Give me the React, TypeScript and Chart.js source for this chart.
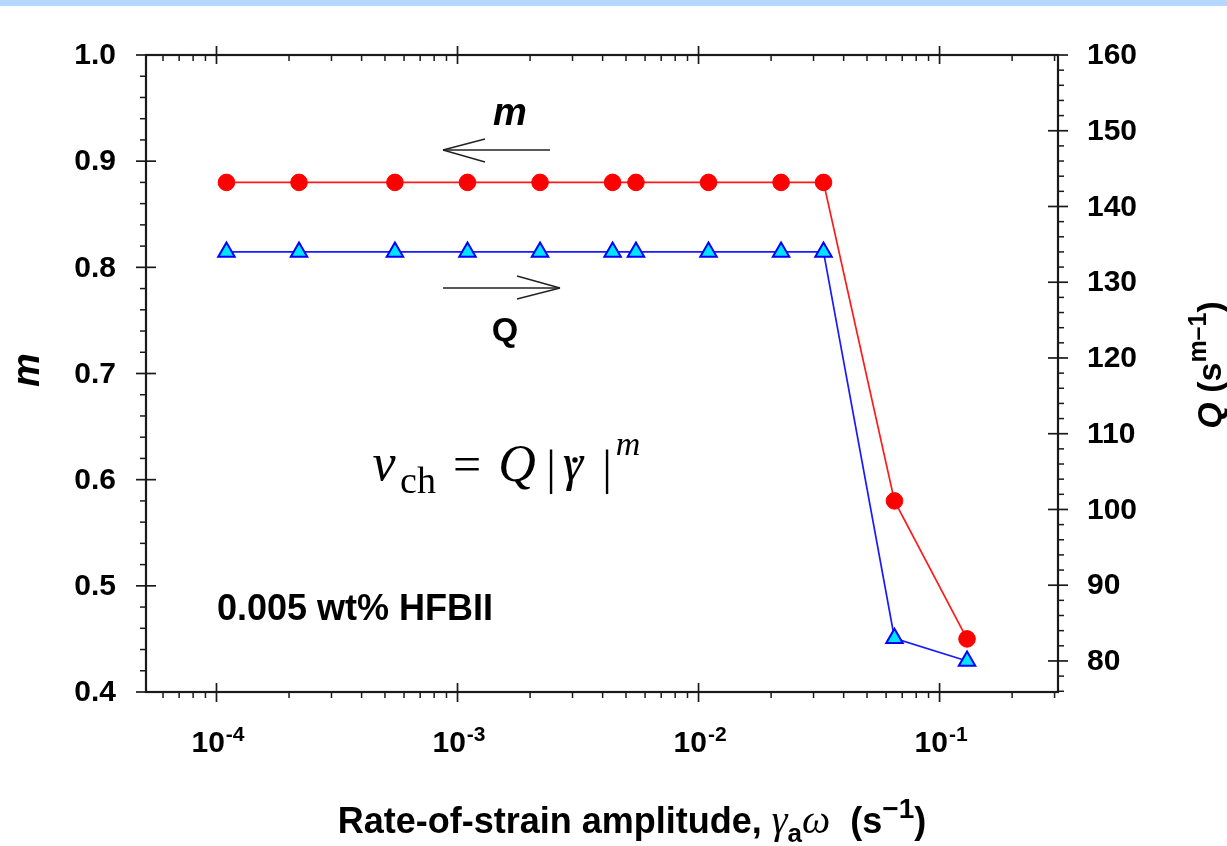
import { useEffect, useRef } from "react";
import { Chart, registerables } from "chart.js";

Chart.register(...registerables);

// Rate-of-strain amplitude, gamma_a * omega (s^-1)
const rates = [1.1e-4, 2.2e-4, 5.5e-4, 1.1e-3, 2.2e-3, 4.4e-3, 5.5e-3, 1.1e-2, 2.2e-2, 3.3e-2, 6.5e-2, 1.3e-1];
// Power-law exponent m (left axis)
const mValues = [0.88, 0.88, 0.88, 0.88, 0.88, 0.88, 0.88, 0.88, 0.88, 0.88, 0.58, 0.45];
// Prefactor Q, s^(m-1) (right axis)
const qValues = [134, 134, 134, 134, 134, 134, 134, 134, 134, 134, 83, 80];

const xDecades = [1e-4, 1e-3, 1e-2, 1e-1];
const xDecadeExponents = ["-4", "-3", "-2", "-1"];
const mTicks = [0.4, 0.5, 0.6, 0.7, 0.8, 0.9, 1.0];
const qTicks = [80, 90, 100, 110, 120, 130, 140, 150, 160];

const W = 1227;
const H = 846;
const SANS = "'Liberation Sans', Arial, sans-serif";
const SERIF = "'Liberation Serif', 'Times New Roman', serif";
const AXIS = "#1a1a1a";

const framePlugin = {
  id: "frame",
  beforeDraw(chart: any) {
    const ctx = chart.ctx as CanvasRenderingContext2D;
    ctx.save();
    ctx.fillStyle = "#ffffff";
    ctx.fillRect(0, 0, W, H);
    ctx.fillStyle = "#b3d7ff";
    ctx.fillRect(0, 0, W, 6);
    ctx.restore();
  },
  afterDraw(chart: any) {
    const ctx = chart.ctx as CanvasRenderingContext2D;
    const { left, right, top, bottom } = chart.chartArea;
    const sx = chart.scales.x;
    const sm = chart.scales.yM;
    const sq = chart.scales.yQ;
    ctx.save();
    ctx.strokeStyle = AXIS;
    ctx.fillStyle = "#000";
    ctx.lineCap = "butt";

    const seg = (x1: number, y1: number, x2: number, y2: number, w = 1.7) => {
      ctx.lineWidth = w;
      ctx.beginPath();
      ctx.moveTo(x1, y1);
      ctx.lineTo(x2, y2);
      ctx.stroke();
    };

    // frame
    ctx.lineWidth = 2.2;
    ctx.strokeRect(left, top, right - left, bottom - top);

    // x ticks (log): majors at decades, minors at 2..9
    for (let e = -5; e <= -1; e++) {
      for (let k = 1; k <= 9; k++) {
        const v = k * Math.pow(10, e);
        const px = sx.getPixelForValue(v);
        if (px < left - 0.5 || px > right + 0.5) continue;
        if (k === 1) {
          seg(px, bottom - 9, px, bottom + 10);
          seg(px, top - 9, px, top + 9);
        } else {
          seg(px, bottom, px, bottom + 6, 1.5);
          seg(px, top, px, top + 6, 1.5);
        }
      }
    }

    // left ticks (m)
    for (let i = 0; i <= 30; i++) {
      const v = 0.4 + i * 0.02;
      const py = sm.getPixelForValue(v);
      if (i % 5 === 0) seg(left - 10, py, left + 10, py);
      else seg(left - 6, py, left, py, 1.5);
    }
    // right ticks (Q)
    for (let v = 76; v <= 160; v += 2) {
      const py = sq.getPixelForValue(v);
      if (v % 10 === 0) seg(right - 10, py, right + 10, py);
      else seg(right, py, right + 6, py, 1.5);
    }

    // tick labels
    ctx.font = `bold 30px ${SANS}`;
    ctx.textBaseline = "middle";
    ctx.textAlign = "right";
    mTicks.forEach((v) => ctx.fillText(v.toFixed(1), 116, sm.getPixelForValue(v) + 1));
    ctx.textAlign = "left";
    qTicks.forEach((v) => ctx.fillText(String(v), 1087, sq.getPixelForValue(v) + 1));

    ctx.textBaseline = "alphabetic";
    xDecades.forEach((v, i) => {
      const px = sx.getPixelForValue(v);
      ctx.font = `bold 30px ${SANS}`;
      const wBase = ctx.measureText("10").width;
      ctx.font = `bold 21px ${SANS}`;
      const wExp = ctx.measureText(xDecadeExponents[i]).width;
      const x0 = px - (wBase + wExp) / 2 + 1;
      ctx.font = `bold 30px ${SANS}`;
      ctx.fillText("10", x0, 752);
      ctx.font = `bold 21px ${SANS}`;
      ctx.fillText(xDecadeExponents[i], x0 + wBase + 1, 741);
    });

    // x axis title
    const parts: [string, string, number][] = [
      ["Rate-of-strain amplitude, ", `bold 36px ${SANS}`, 0],
      ["\u03b3", `italic 40px ${SERIF}`, 0],
      ["a", `bold 26px ${SANS}`, 9],
      ["\u03c9", `italic 40px ${SERIF}`, 0],
      ["  (s", `bold 36px ${SANS}`, 0],
      ["\u2212", `bold 28px ${SANS}`, -15],
      ["1", `bold 28px ${SANS}`, -15],
      [")", `bold 36px ${SANS}`, 0],
    ];
    let total = 0;
    parts.forEach(([t, f]) => {
      ctx.font = f;
      total += ctx.measureText(t).width;
    });
    let cx = 632 - total / 2;
    parts.forEach(([t, f, dy]) => {
      ctx.font = f;
      ctx.fillText(t, cx, 833 + dy);
      cx += ctx.measureText(t).width;
    });

    // left axis title
    ctx.save();
    ctx.translate(39, 370);
    ctx.rotate(-Math.PI / 2);
    ctx.textAlign = "center";
    ctx.font = `bold italic 38px ${SANS}`;
    ctx.fillText("m", 0, 0);
    ctx.restore();

    // right axis title
    ctx.save();
    ctx.translate(1221, 365);
    ctx.rotate(-Math.PI / 2);
    const rparts: [string, string, number][] = [
      ["Q", `bold italic 34px ${SANS}`, 0],
      [" (s", `bold 34px ${SANS}`, 0],
      ["m\u20131", `bold 25px ${SANS}`, -15],
      [")", `bold 34px ${SANS}`, 0],
    ];
    let rt = 0;
    rparts.forEach(([t, f]) => {
      ctx.font = f;
      rt += ctx.measureText(t).width;
    });
    let rx = -rt / 2;
    ctx.textAlign = "left";
    rparts.forEach(([t, f, dy]) => {
      ctx.font = f;
      ctx.fillText(t, rx, dy);
      rx += ctx.measureText(t).width;
    });
    ctx.restore();

    // series annotations with arrows
    ctx.textAlign = "center";
    ctx.font = `bold italic 38px ${SANS}`;
    ctx.fillText("m", 510, 125);
    ctx.font = `bold 34px ${SANS}`;
    ctx.fillText("Q", 505, 341);

    ctx.strokeStyle = "#222";
    seg(550, 150, 443, 150, 1.4);
    seg(443, 150, 485, 139, 1.4);
    seg(443, 150, 485, 162, 1.4);
    seg(443, 288, 560, 288, 1.4);
    seg(560, 288, 517, 276, 1.4);
    seg(560, 288, 517, 299, 1.4);

    // power-law relation
    ctx.fillStyle = "#000";
    ctx.textAlign = "center";
    ctx.font = `italic 52px ${SERIF}`;
    ctx.fillText("v", 384, 480);
    ctx.font = `38px ${SERIF}`;
    ctx.fillText("ch", 418, 493);
    ctx.font = `50px ${SERIF}`;
    ctx.fillText("=", 467, 481);
    ctx.font = `italic 52px ${SERIF}`;
    ctx.fillText("Q", 517, 481);
    ctx.font = `48px ${SERIF}`;
    ctx.fillText("|", 551, 484);
    ctx.font = `italic 52px ${SERIF}`;
    ctx.fillText("\u03b3", 573, 480);
    ctx.beginPath();
    ctx.arc(575, 460, 2.7, 0, Math.PI * 2);
    ctx.fill();
    ctx.font = `48px ${SERIF}`;
    ctx.fillText("|", 607, 484);
    ctx.font = `italic 34px ${SERIF}`;
    ctx.fillText("m", 628, 455);

    // sample label
    ctx.textAlign = "left";
    ctx.font = `bold 36px ${SANS}`;
    ctx.fillText("0.005 wt% HFBII", 217, 620);

    ctx.restore();
  },
};

export default function App() {
  const ref = useRef<HTMLCanvasElement | null>(null);

  useEffect(() => {
    if (!ref.current) return;
    const chart = new Chart(ref.current, {
      type: "line",
      data: {
        datasets: [
          {
            label: "m",
            data: rates.map((x, i) => ({ x, y: mValues[i] })),
            yAxisID: "yM",
            borderColor: "#ff1a1a",
            borderWidth: 1.7,
            backgroundColor: "#ff0000",
            pointBackgroundColor: "#ff0000",
            pointBorderColor: "#ff0000",
            pointBorderWidth: 1,
            pointStyle: "circle",
            pointRadius: 8.3,
            tension: 0,
          },
          {
            label: "Q",
            data: rates.map((x, i) => ({ x, y: qValues[i] })),
            yAxisID: "yQ",
            borderColor: "#1a1aff",
            borderWidth: 1.7,
            backgroundColor: "#00e5ff",
            pointBackgroundColor: "#00e5ff",
            pointBorderColor: "#0000ff",
            pointBorderWidth: 2,
            pointStyle: "triangle",
            pointRadius: 9.5,
            tension: 0,
          },
        ],
      },
      options: {
        animation: false,
        responsive: false,
        devicePixelRatio: 1,
        layout: { padding: { left: 146, right: W - 1058, top: 55, bottom: H - 692 } },
        plugins: { legend: { display: false }, tooltip: { enabled: false } },
        events: [],
        scales: {
          x: { type: "logarithmic", min: 5.1e-5, max: 0.31, display: false },
          yM: { type: "linear", position: "left", min: 0.4, max: 1.0, display: false },
          yQ: { type: "linear", position: "right", min: 75.9, max: 160, display: false },
        },
      },
      plugins: [framePlugin],
    });
    return () => chart.destroy();
  }, []);

  return (
    <div style={{ position: "fixed", left: 0, top: 0, width: W, height: H, background: "#fff" }}>
      <canvas ref={ref} width={W} height={H} style={{ display: "block", width: W, height: H }} />
    </div>
  );
}
